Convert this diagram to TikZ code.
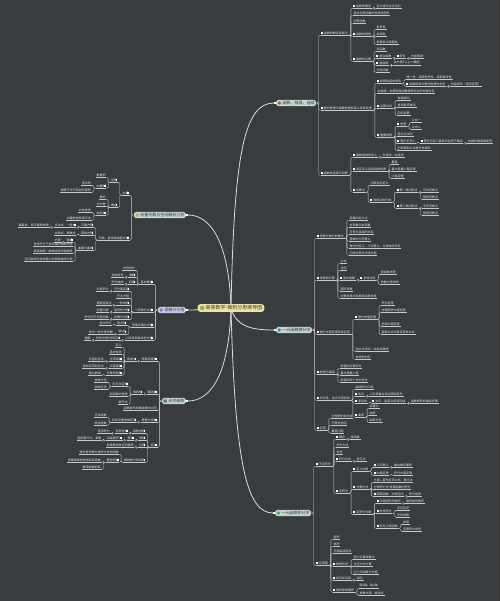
\documentclass[tikz,border=0pt]{standalone}
\usepackage{fontspec}
\newfontfamily\cjk{Noto Sans CJK SC}
\definecolor{bgc}{HTML}{383C3F}
\definecolor{lnc}{HTML}{C4C8C8}
\definecolor{txc}{HTML}{E4E6E6}
\definecolor{mfill}{HTML}{C2D6CE}
\definecolor{mfillp}{HTML}{C9CBEA}
\definecolor{mtext}{HTML}{2E3436}
\definecolor{rootc}{HTML}{EFE3A4}
\definecolor{roottx}{HTML}{3A3A2A}
\definecolor{cvc}{HTML}{DADDDD}
\definecolor{icred}{HTML}{D83A34}
\definecolor{icblue}{HTML}{3A7FD5}
\definecolor{icgreen}{HTML}{3DAA4A}
\definecolor{icorange}{HTML}{EE9A2C}
\definecolor{icpurple}{HTML}{7B6BD0}
\definecolor{icgray}{HTML}{6F7A7A}
\definecolor{icroot}{HTML}{8FB04C}
\pgfdeclarelayer{bg}\pgfdeclarelayer{cv}\pgfsetlayers{bg,cv,main}
\tikzset{
 lf/.style={font=\cjk\fontsize{3}{3.6}\selectfont, text=txc, inner xsep=0.6pt, inner ysep=0.7pt},
 lfR/.style={lf,anchor=west}, lfL/.style={lf,anchor=east},
 cn/.style={draw=lnc,line width=0.4pt,rounded corners=1.2pt},
 ul/.style={draw=lnc,line width=0.4pt},
 mk/.style={fill=white},
 mainn/.style={font=\cjk\fontsize{4}{4.8}\selectfont, text=mtext, rounded corners=1.8pt, inner xsep=1.4pt, inner ysep=1.3pt},
 rootn/.style={font=\cjk\fontsize{5}{6}\selectfont, fill=rootc, text=roottx, rounded corners=3pt, inner xsep=2pt, inner ysep=1.6pt},
 curve/.style={draw=cvc, line width=0.8pt},
 pt0/.style={inner sep=0pt, minimum size=0pt, outer sep=0pt},
}
\newcommand\bR[4]{\node[lfR] (#2) at ([xshift=4pt]#1.east |- 0,#3) {#4};
  \draw[cn] (#1.south east) -- ++(2.2pt,0pt) |- (#2.south west);
  \draw[ul] (#2.south west) -- (#2.south east);}
\newcommand\bRK[4]{\node[lfR] (#2) at ([xshift=4pt]#1.east |- 0,#3) {\hspace{2.6pt}#4};
  \draw[cn] (#1.south east) -- ++(2.2pt,0pt) |- (#2.south west);
  \draw[ul] (#2.south west) -- (#2.south east);
  \fill[mk] ([shift={(0.5pt,-1pt)}]#2.west) rectangle ([shift={(2.4pt,0.9pt)}]#2.west);}
\newcommand\bL[4]{\node[lfL] (#2) at ([xshift=-4pt]#1.west |- 0,#3) {#4};
  \draw[cn] (#1.south west) -- ++(-2.2pt,0pt) |- (#2.south east);
  \draw[ul] (#2.south east) -- (#2.south west);}
\newcommand\bLK[4]{\node[lfL] (#2) at ([xshift=-4pt]#1.west |- 0,#3) {#4\hspace{2.6pt}};
  \draw[cn] (#1.south west) -- ++(-2.2pt,0pt) |- (#2.south east);
  \draw[ul] (#2.south east) -- (#2.south west);
  \fill[mk] ([shift={(-0.5pt,-1pt)}]#2.east) rectangle ([shift={(-2.4pt,0.9pt)}]#2.east);}
\begin{document}
\begin{tikzpicture}[x=1pt,y=-1pt]
\useasboundingbox (0,0) rectangle (500,601);
\begin{pgfonlayer}{bg}
\fill[bgc] (0,0) rectangle (500,601);
\end{pgfonlayer}
% root and main nodes
\node[rootn] (root) at (231,308) {\hspace{6pt}高等数学-微积分思维导图};
\fill[icroot] ([xshift=4.8pt]root.west) circle (2.3pt);
\node[mainn,fill=mfill,anchor=west] (m1) at (276,103) {\hspace{5pt}函数、极限、连续};
\node[mainn,fill=mfill,anchor=west] (m2) at (276,330) {\hspace{5pt}一元函数微分学};
\node[mainn,fill=mfill,anchor=west] (m3) at (275,513) {\hspace{5pt}一元函数积分学};
\node[mainn,fill=mfill,anchor=east] (m4) at (186,215) {\hspace{5pt}向量代数与空间解析几何};
\node[mainn,fill=mfillp,anchor=east] (m5) at (186,310) {\hspace{5pt}常微分方程};
\node[mainn,fill=mfill,anchor=east] (m6) at (186,401) {\hspace{5pt}无穷级数};
\fill[icred] ([xshift=3.4pt]m1.west) circle (1.8pt);
\fill[icblue] ([xshift=3.4pt]m2.west) circle (1.8pt);
\fill[icgreen] ([xshift=3.4pt]m3.west) circle (1.8pt);
\fill[icorange] ([xshift=3.4pt]m4.west) circle (1.8pt);
\fill[icpurple] ([xshift=3.4pt]m5.west) circle (1.8pt);
\fill[icgray, rounded corners=0.4pt] ([shift={(1.6pt,-1.7pt)}]m6.west) rectangle ([shift={(5.1pt,1.7pt)}]m6.west);
\foreach \m in {m1,m2,m3}{\fill[white] ([shift={(-2.2pt,-1pt)}]\m.west) rectangle ([shift={(-0.2pt,1pt)}]\m.west);}
\foreach \m in {m4,m5,m6}{\fill[white] ([shift={(0.2pt,-1pt)}]\m.east) rectangle ([shift={(2.2pt,1pt)}]\m.east);}
\node[pt0] (m1r) at ([xshift=0.3pt]m1.east) {};
\node[pt0] (m2r) at ([xshift=0.3pt]m2.east) {};
\node[pt0] (m3r) at ([xshift=0.3pt]m3.east) {};
\node[pt0] (m4l) at ([xshift=-0.3pt]m4.west) {};
\node[pt0] (m5l) at ([xshift=-0.3pt]m5.west) {};
\node[pt0] (m6l) at ([xshift=-0.3pt]m6.west) {};
\begin{pgfonlayer}{cv}
\draw[curve] (root.center) .. controls (234,150) and (245,103) .. ([xshift=-2pt]m1.west);
\draw[curve] (root.center) .. controls (236,326) and (250,330) .. ([xshift=-2pt]m2.west);
\draw[curve] (root.center) .. controls (235,470) and (248,513) .. ([xshift=-2pt]m3.west);
\draw[curve] (root.center) .. controls (229,245) and (212,215) .. ([xshift=2pt]m4.east);
\draw[curve] (root.center) .. controls (215,309) and (200,310) .. ([xshift=2pt]m5.east);
\draw[curve] (root.center) .. controls (229,372) and (212,401) .. ([xshift=2pt]m6.east);
\end{pgfonlayer}
% ===== main 1
\bRK{m1r}{a1}{33}{函数的概念及表示}
\bRK{a1}{a1a}{6}{函数的概念}
\bR{a1a}{a1a1}{6}{定义域与对应法则}
\bR{a1}{a1b}{13}{基本初等函数的性质及图形}
\bR{a1}{a1c}{21}{初等函数}
\bRK{a1}{a1d}{34}{函数的特性}
\bR{a1d}{a1d1}{27}{有界性}
\bR{a1d}{a1d2}{34}{单调性}
\bR{a1d}{a1d3}{42}{奇偶性与周期性}
\bRK{a1}{a1e}{59}{函数的运算}
\bR{a1e}{a1e1}{49}{反函数}
\bRK{a1e}{a1e2}{56}{复合函数}
\bRK{a1e2}{a1e21}{56}{条件}
\bR{a1e21}{a1e211}{56}{内层值域}
\bRK{a1e}{a1e3}{63}{隐函数}
\bR{a1e3}{a1e31}{63}{由方程F(x,y)=0确定}
\bR{a1e}{a1e4}{70}{分段函数}
\bRK{m1r}{b}{108}{数列极限与函数极限的定义及其性质}
\bRK{b}{b1}{81}{极限的基本性质}
\bR{b1}{b11}{77}{唯一性、局部有界性、局部保号性}
\bRK{b1}{b12}{84}{函数极限与数列极限的关系}
\bR{b12}{b121}{84}{归结原则（海涅定理）}
\bR{b}{b2}{91}{左极限、右极限及函数极限存在的充要条件}
\bRK{b}{b3}{106}{运算法则}
\bR{b3}{b31}{98}{夹逼准则}
\bR{b3}{b32}{105}{单调有界准则}
\bR{b3}{b33}{113}{四则运算}
\bRK{b}{b4}{135}{重要极限}
\bRK{b4}{b41}{124}{极限}
\bR{b41}{b411}{120}{公式一}
\bR{b41}{b412}{127}{公式二}
\bR{b4}{b42}{134}{洛必达法则}
\bRK{b4}{b43}{141}{等价无穷小}
\bRK{b43}{b431}{141}{等价无穷小替换只能用于乘除}
\bR{b431}{b4311}{141}{加减时需谨慎使用}
\bR{b4}{b44}{148}{利用泰勒公式展开求极限}
\bRK{m1r}{c}{173}{函数的连续与间断}
\bRK{c}{c1}{155}{函数连续的定义}
\bR{c1}{c11}{155}{左连续、右连续}
\bRK{c}{c2}{169}{闭区间上连续函数性质}
\bR{c2}{c21}{162}{最值}
\bR{c2}{c22}{169}{最大值最小值定理}
\bR{c2}{c23}{176}{介值定理}
\bRK{c}{c3}{190}{间断点}
\bR{c3}{c31}{183}{间断点的定义}
\bRK{c3}{c32}{200}{间断点的分类}
\bRK{c32}{c321}{190}{第一类间断点}
\bR{c321}{c3211}{190}{可去间断点}
\bR{c321}{c3212}{197}{跳跃间断点}
\bRK{c32}{c322}{206}{第二类间断点}
\bR{c322}{c3221}{206}{无穷间断点}
\bR{c322}{c3222}{213}{振荡间断点}
% ===== main 2
\bRK{m2r}{d1}{236}{导数与微分的概念}
\bR{d1}{d11}{218}{导数的定义式}
\bR{d1}{d12}{225}{左导数与右导数}
\bR{d1}{d13}{232}{可导与连续的关系}
\bR{d1}{d14}{239}{导数的几何意义}
\bR{d1}{d15}{246}{微分的定义、几何意义、与导数的关系}
\bR{d1}{d16}{253}{切线方程与法线方程}
\bRK{m2r}{d2}{278}{导数的计算}
\bR{d2}{d21}{261}{公式}
\bR{d2}{d22}{268}{法则}
\bRK{d2}{d23}{278}{复合函数}
\bRK{d23}{d231}{278}{求导法则}
\bR{d231}{d2311}{272}{隐函数求导}
\bR{d231}{d2312}{282}{参数方程求导}
\bR{d2}{d24}{289}{高阶导数}
\bR{d2}{d25}{296}{对数求导法及幂指函数求导}
\bRK{m2r}{d3}{332}{微分中值定理及其应用}
\bRK{d3}{d31}{317}{微分中值定理}
\bR{d31}{d311}{303}{罗尔定理}
\bR{d31}{d312}{310}{拉格朗日中值定理}
\bR{d31}{d313}{324}{柯西中值定理}
\bR{d31}{d314}{332}{泰勒公式与麦克劳林公式}
\bR{d3}{d32}{349}{洛必达法则、未定式极限}
\bR{d3}{d33}{357}{单调性判别}
\bRK{m2r}{d4}{372}{极值与最值}
\bR{d4}{d41}{366}{极值的必要条件}
\bR{d4}{d42}{373}{最大值最小值}
\bR{d4}{d43}{380}{极值的两个充分条件}
\bRK{m2r}{d5}{398}{凹凸性、拐点与渐近线}
\bR{d5}{d51}{387}{曲线的凹凸性}
\bRK{d5}{d52}{394}{拐点}
\bR{d52}{d521}{394}{二阶导数在该点两侧变号}
\bRK{d5}{d53}{401}{渐近线}
\bRK{d53}{d531}{401}{水平、铅直与斜渐近线}
\bR{d531}{d5311}{401}{函数图形的描绘步骤}
\bRK{d5}{d54}{415}{曲率}
\bR{d54}{d541}{406}{弧微分}
\bR{d54}{d542}{413}{曲率}
\bR{d54}{d543}{420}{曲率半径}
\bRK{m2r}{d6}{428}{应用}
\bR{d6}{d61}{416}{方程根的存在性}
\bR{d6}{d62}{423}{不等式证明}
\bR{d6}{d63}{431}{最值问题}
% ===== main 3
\bRK{m3r}{e1}{464}{不定积分}
\bRK{e1}{e11}{437}{概念}
\bR{e11}{e111}{437}{原函数}
\bR{e1}{e12}{445}{积分公式}
\bR{e1}{e13}{452}{性质}
\bRK{e1}{e14}{459}{积分方法}
\bR{e14}{e141}{459}{换元法}
\bRK{e1}{e15}{491}{定积分}
\bRK{e15}{e151}{469}{定义性质}
\bRK{e151}{e1511}{465}{几何意义}
\bR{e1511}{e15111}{465}{曲边梯形面积}
\bRK{e151}{e1512}{473}{中值定理}
\bR{e1512}{e15121}{473}{积分中值定理}
\bRK{e15}{e152}{487}{计算方法}
\bR{e152}{e1521}{480}{牛顿—莱布尼茨公式、换元法}
\bR{e152}{e1522}{487}{分部积分法 奇偶函数的积分}
\bRK{e152}{e1523}{494}{周期函数、对称区间}
\bR{e1523}{e15231}{494}{积分性质}
\bRK{e15}{e153}{512}{定积分专题}
\bRK{e153}{e1531}{501}{平面图形的面积}
\bR{e1531}{e15311}{501}{旋转体的体积}
\bRK{e153}{e1532}{511}{反常积分}
\bR{e1532}{e15321}{508}{无穷区间}
\bR{e1532}{e15322}{515}{无界函数}
\bRK{e153}{e1533}{526}{积分上限函数}
\bR{e1533}{e15331}{522}{求导}
\bR{e1533}{e15332}{529}{变限积分求导}
\bRK{m3r}{e2}{563}{应用篇}
\bR{e2}{e21}{537}{面积}
\bR{e2}{e22}{544}{体积}
\bR{e2}{e23}{551}{平面曲线弧长}
\bRK{e2}{e24}{564}{物理应用}
\bR{e24}{e241}{557}{变力沿直线做功}
\bR{e24}{e242}{564}{水压力的计算}
\bR{e24}{e243}{572}{引力与函数平均值}
\bRK{e2}{e25}{578}{经济学应用}
\bR{e25}{e251}{578}{边际}
\bRK{e2}{e26}{590}{旋转体侧面积}
\bR{e26}{e261}{586}{绕x轴、绕y轴}
\bR{e26}{e262}{593}{参数方程、极坐标}
% ===== main 4
\bLK{m4l}{f1}{193}{向量}
\bLK{f1}{f11}{180}{运算}
\bL{f11}{f111}{175}{数量积}
\bLK{f11}{f112}{186}{向量积}
\bL{f112}{f1121}{183}{混合积}
\bL{f112}{f1122}{190}{模等于平行四边形面积}
\bLK{f1}{f12}{205}{概念}
\bL{f12}{f121}{197}{模长}
\bL{f12}{f122}{204}{方向角}
\bLK{f12}{f123}{213}{坐标系}
\bL{f123}{f1231}{210}{方向余弦}
\bL{f123}{f1232}{218}{向量的坐标表示法}
\bLK{m4l}{f2}{238}{平面、直线及曲面方程}
\bLK{f2}{f21}{225}{平面方程}
\bLK{f21}{f211}{225}{点法式、一般式}
\bL{f211}{f2111}{225}{截距式、两平面的夹角}
\bLK{f2}{f22}{233}{直线方程}
\bL{f22}{f221}{233}{对称式、参数式}
\bLK{f2}{f23}{248}{曲面与曲线}
\bLK{f23}{f231}{240}{球面}
\bL{f231}{f2311}{240}{方程}
\bL{f23}{f232}{244}{母线平行于坐标轴的柱面方程}
\bL{f23}{f233}{251}{旋转曲面：曲线绕坐标轴旋转}
\bL{f23}{f234}{259}{空间曲线在坐标面上的投影曲线方程}
% ===== main 5
\bLK{m5l}{g1}{282}{基本概念}
\bL{g1}{g11}{268}{方程的阶}
\bLK{g1}{g12}{275}{通解}
\bL{g12}{g121}{275}{初始条件}
\bLK{g1}{g13}{282}{特解}
\bL{g13}{g131}{282}{积分曲线}
\bLK{m5l}{g2}{310}{一阶微分方程}
\bLK{g2}{g21}{289}{可分离变量}
\bL{g21}{g211}{289}{分离积分}
\bL{g2}{g22}{296}{齐次方程}
\bLK{g2}{g23}{303}{一阶线性}
\bL{g23}{g231}{303}{常数变易法}
\bLK{g2}{g24}{310}{伯努利方程}
\bL{g24}{g241}{310}{变量代换}
\bLK{g2}{g25}{317}{全微分方程}
\bL{g25}{g251}{317}{积分因子与原函数}
\bLK{m5l}{g3}{325}{可降阶高阶方程}
\bLK{g3}{g31}{323}{逐次型}
\bL{g31}{g311}{323}{逐次积分}
\bLK{g3}{g32}{332}{缺y型}
\bL{g32}{g321}{332}{降为一阶方程求解}
\bLK{m5l}{g4}{338}{二阶常系数线性方程}
\bLK{g4}{g41}{338}{特征方程与特征根}
\bL{g41}{g411}{338}{通解}
% ===== main 6
\bLK{m6l}{h1}{359}{常数项级数}
\bLK{h1}{h11}{359}{审敛法}
\bL{h11}{h111}{345}{定义}
\bL{h11}{h112}{352}{基本性质}
\bLK{h11}{h113}{359}{正项级数}
\bL{h113}{h1131}{359}{比值判别法}
\bLK{h11}{h114}{366}{交错级数}
\bL{h114}{h1141}{366}{莱布尼茨判别法}
\bLK{h11}{h115}{373}{任意项级数}
\bL{h115}{h1151}{373}{绝对收敛}
\bLK{m6l}{h2}{392}{幂级数}
\bLK{h2}{h21}{392}{收敛性}
\bLK{h21}{h211}{384}{阿贝尔定理}
\bL{h211}{h2111}{380}{收敛半径}
\bL{h211}{h2112}{387}{收敛区间}
\bL{h21}{h212}{394}{和函数的性质}
\bL{h21}{h213}{402}{展开式}
\bL{m6l}{h3}{408}{函数展开成幂级数的应用}
\bLK{m6l}{h4}{420}{傅里叶级数}
\bLK{h4}{h41}{420}{狄利克雷收敛定理}
\bL{h41}{h411}{415}{正弦级数}
\bL{h41}{h412}{423}{余弦级数}
\bLK{m6l}{h5}{445}{综合}
\bLK{h5}{h51}{431}{级数求和}
\bLK{h51}{h511}{431}{逐项求导}
\bL{h511}{h5111}{431}{逐项积分}
\bLK{h5}{h52}{438}{求和}
\bLK{h52}{h521}{438}{展开}
\bLK{h521}{h5211}{438}{间接展开法}
\bL{h5211}{h52111}{438}{直接展开法、泰勒}
\bLK{h5}{h53}{445}{证明}
\bL{h53}{h531}{445}{用级数收敛证明极限}
\bLK{h5}{h54}{460}{幂级数与和函数}
\bL{h54}{h541}{452}{通过逐项微分或积分求和函数}
\bLK{h54}{h542}{460}{典型例题}
\bL{h542}{h5421}{460}{求幂级数收敛域及和函数}
\bL{h542}{h5422}{467}{数项级数的和}
\end{tikzpicture}
\end{document}
